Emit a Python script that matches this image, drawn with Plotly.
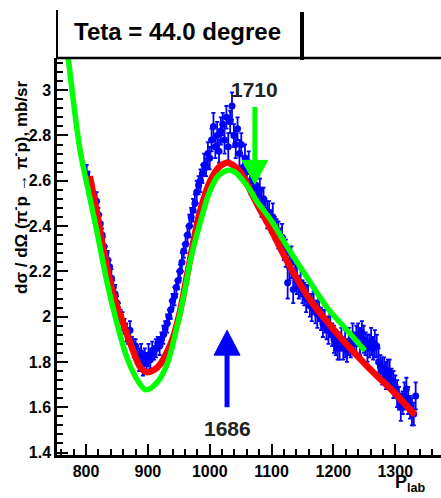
import plotly.graph_objects as go

# ---------------- data ----------------
p_lab = [801, 804, 807, 810, 813, 817, 820, 823, 826, 829, 832, 835, 838, 841, 844, 847, 850, 853, 856, 859,
         862, 865, 868, 871, 874, 877, 880, 883, 886, 889, 892, 895, 898, 901, 904, 907, 910, 913, 916, 919,
         922, 925, 928, 931, 934, 937, 940, 943, 946, 949, 952, 955, 958, 961, 964, 967, 970, 973, 976, 979,
         982, 985, 988, 991, 994, 997, 1000, 1003, 1006, 1009, 1012, 1015, 1018, 1021, 1024, 1027, 1030, 1033, 1036, 1039,
         1042, 1045, 1048, 1051, 1054, 1057, 1060, 1063, 1066, 1069, 1072, 1075, 1078, 1081, 1084, 1087, 1090, 1093, 1096, 1099,
         1102, 1105, 1108, 1111, 1114, 1117, 1120, 1123, 1126, 1129, 1132, 1135, 1138, 1141, 1144, 1147, 1150, 1153, 1156, 1159,
         1162, 1165, 1168, 1171, 1174, 1177, 1180, 1183, 1186, 1189, 1192, 1195, 1198, 1201, 1204, 1207, 1210, 1213, 1216, 1219,
         1222, 1225, 1228, 1231, 1234, 1237, 1240, 1243, 1246, 1249, 1252, 1255, 1258, 1261, 1264, 1267, 1270, 1273, 1276, 1279,
         1282, 1285, 1288, 1291, 1294, 1297, 1300, 1303, 1306, 1309, 1312, 1315, 1318, 1321, 1324, 1327, 1330, 1333]
dsigma = [2.63, 2.60, 2.58, 2.55, 2.52, 2.51, 2.45, 2.41, 2.36, 2.31, 2.28, 2.25, 2.22, 2.17, 2.13, 2.10, 2.06, 2.02, 2.00, 1.98,
          1.96, 1.93, 1.91, 1.94, 1.88, 1.86, 1.87, 1.83, 1.81, 1.84, 1.79, 1.82, 1.80, 1.83, 1.81, 1.85, 1.84, 1.86, 1.88, 1.87,
          1.90, 1.92, 1.95, 1.97, 2.00, 2.03, 2.07, 2.09, 2.13, 2.16, 2.20, 2.24, 2.29, 2.32, 2.36, 2.40, 2.44, 2.47, 2.50, 2.55,
          2.58, 2.60, 2.63, 2.67, 2.66, 2.72, 2.70, 2.78, 2.84, 2.75, 2.80, 2.73, 2.82, 2.85, 2.78, 2.88, 2.75, 2.86, 2.93, 2.80,
          2.76, 2.83, 2.72, 2.76, 2.66, 2.70, 2.64, 2.68, 2.60, 2.62, 2.57, 2.58, 2.53, 2.56, 2.50, 2.52, 2.47, 2.45, 2.46, 2.42,
          2.44, 2.39, 2.38, 2.36, 2.34, 2.35, 2.30, 2.28, 2.15, 2.22, 2.24, 2.12, 2.18, 2.16, 2.13, 2.15, 2.11, 2.10, 2.08, 2.09,
          2.05, 2.04, 2.06, 2.02, 2.01, 2.03, 1.99, 1.97, 1.98, 1.95, 1.94, 1.96, 1.92, 1.90, 1.88, 1.86, 1.87, 1.90, 1.86, 1.88,
          1.85, 1.89, 1.87, 1.91, 1.88, 1.90, 1.92, 1.89, 1.93, 1.90, 1.88, 1.86, 1.87, 1.89, 1.86, 1.88, 1.87, 1.80, 1.78, 1.76,
          1.77, 1.74, 1.76, 1.75, 1.72, 1.70, 1.69, 1.66, 1.64, 1.60, 1.62, 1.65, 1.68, 1.63, 1.60, 1.58, 1.57, 1.65]
dsigma_err = [0.04, 0.04, 0.03, 0.04, 0.03, 0.04, 0.03, 0.04, 0.03, 0.04, 0.03, 0.04, 0.03, 0.04, 0.03, 0.04, 0.03, 0.04, 0.03, 0.04,
              0.03, 0.04, 0.03, 0.04, 0.03, 0.04, 0.03, 0.04, 0.05, 0.04, 0.05, 0.04, 0.04, 0.05, 0.04, 0.04, 0.03, 0.04, 0.03, 0.04,
              0.03, 0.04, 0.03, 0.04, 0.03, 0.04, 0.03, 0.04, 0.03, 0.04, 0.03, 0.04, 0.03, 0.04, 0.04, 0.05, 0.04, 0.05, 0.04, 0.05,
              0.04, 0.05, 0.04, 0.05, 0.04, 0.05, 0.05, 0.05, 0.06, 0.05, 0.06, 0.05, 0.06, 0.05, 0.06, 0.05, 0.06, 0.05, 0.06, 0.05,
              0.06, 0.05, 0.06, 0.05, 0.05, 0.06, 0.05, 0.05, 0.06, 0.05, 0.05, 0.06, 0.05, 0.05, 0.06, 0.05, 0.05, 0.06, 0.05, 0.05,
              0.06, 0.05, 0.05, 0.06, 0.05, 0.06, 0.05, 0.06, 0.07, 0.06, 0.07, 0.06, 0.05, 0.06, 0.05, 0.06, 0.05, 0.05, 0.06, 0.05,
              0.05, 0.06, 0.05, 0.05, 0.06, 0.05, 0.05, 0.06, 0.05, 0.05, 0.06, 0.05, 0.05, 0.06, 0.05, 0.05, 0.06, 0.05, 0.05, 0.06,
              0.05, 0.06, 0.05, 0.06, 0.05, 0.06, 0.05, 0.06, 0.05, 0.06, 0.05, 0.06, 0.05, 0.06, 0.05, 0.06, 0.05, 0.06, 0.05, 0.06,
              0.05, 0.06, 0.05, 0.06, 0.05, 0.06, 0.05, 0.06, 0.05, 0.06, 0.05, 0.06, 0.05, 0.06, 0.05, 0.06, 0.05, 0.06]

fit_red_x = [806, 818, 828, 844, 860, 876, 888, 898, 910, 920, 932, 941, 950, 957, 968, 984, 1001, 1015, 1028, 1040,
             1054, 1065, 1076, 1098, 1130, 1162, 1206, 1255, 1300, 1332]
fit_red_y = [2.62, 2.45, 2.30, 2.10, 1.97, 1.85, 1.775, 1.755, 1.765, 1.79, 1.85, 1.91, 2.00, 2.09, 2.25, 2.46, 2.60, 2.66, 2.68, 2.665,
             2.62, 2.56, 2.50, 2.39, 2.22, 2.075, 1.925, 1.78, 1.66, 1.565]

fit_green_x = [770, 790, 801, 818, 834, 850, 866, 883, 897, 915, 931, 947, 960, 968, 984, 1001, 1015, 1028, 1040, 1054,
               1065, 1076, 1098, 1125, 1157, 1190, 1222, 1251]
fit_green_y = [3.17, 2.74, 2.59, 2.37, 2.15, 1.97, 1.82, 1.72, 1.677, 1.71, 1.79, 1.955, 2.12, 2.24, 2.41, 2.56, 2.625, 2.645, 2.64, 2.60,
               2.56, 2.51, 2.43, 2.31, 2.175, 2.04, 1.94, 1.85]

title_text = "Teta = 44.0 degree"
y_title = "dσ / dΩ (π<sup>-</sup>p → π<sup>-</sup>p), mb/sr"
x_title = "P<sub>lab</sub>"

# resonance markers (arrows): x position, tail y, head-base y, tip y
arrow_1686 = dict(x=1028, tail=1.60, base=1.83, tip=1.94, label="1686")
arrow_1710 = dict(x=1073, tail=2.926, base=2.69, tip=2.585, label="1710")
ARROW_HALF = 21  # half head width, in x units

# ---------------- figure ----------------
W, H = 441, 498
ML, MR, MT, MB = 57, 0, 58, 43
PW, PH = W - ML - MR, H - MT - MB


def px(x):
    return (x - ML) / PW


def py(y):
    return (H - MB - y) / PH


FONT = "Liberation Sans, Arial, sans-serif"

fig = go.Figure()

fig.add_trace(go.Scatter(
    x=p_lab, y=dsigma, mode="markers",
    marker=dict(color="#0000ff", size=7, line=dict(width=0)),
    error_y=dict(type="data", array=dsigma_err, color="#0000ff", thickness=1.8, width=2),
    showlegend=False,
))
fig.add_trace(go.Scatter(
    x=fit_red_x, y=fit_red_y, mode="lines",
    line=dict(color="#ff0000", width=6.5, shape="spline", smoothing=1.0),
    showlegend=False,
))
fig.add_trace(go.Scatter(
    x=fit_green_x, y=fit_green_y, mode="lines",
    line=dict(color="#00ff00", width=5.5, shape="spline", smoothing=1.0),
    showlegend=False,
))

shapes = []
annotations = []

# arrows
for arr, col in ((arrow_1686, "#0000ff"), (arrow_1710, "#00ff00")):
    shapes.append(dict(type="line", xref="x", yref="y", x0=arr["x"], x1=arr["x"],
                       y0=arr["tail"], y1=arr["base"], line=dict(color=col, width=5), layer="above"))
    shapes.append(dict(type="path", xref="x", yref="y", layer="above",
                       path=f"M {arr['x']-ARROW_HALF},{arr['base']} L {arr['x']+ARROW_HALF},{arr['base']} "
                            f"L {arr['x']},{arr['tip']} Z",
                       fillcolor=col, line=dict(color=col, width=1)))

annotations.append(dict(text=arrow_1710["label"], xref="paper", yref="paper", x=px(254), y=py(89),
                        showarrow=False, xanchor="center", yanchor="middle",
                        font=dict(family=FONT, size=21, color="#222", weight="bold")))
annotations.append(dict(text=arrow_1686["label"], xref="paper", yref="paper", x=px(227), y=py(428),
                        showarrow=False, xanchor="center", yanchor="middle",
                        font=dict(family=FONT, size=21, color="#222", weight="bold")))

# top frame line
shapes.append(dict(type="line", xref="paper", yref="paper", x0=0, x1=1, y0=1, y1=1,
                   line=dict(color="black", width=2.5)))
# title box (left edge, shadowed right edge)
shapes.append(dict(type="line", xref="paper", yref="paper", x0=px(57), x1=px(57), y0=py(58), y1=py(10),
                   line=dict(color="black", width=2)))
shapes.append(dict(type="line", xref="paper", yref="paper", x0=px(302), x1=px(302), y0=py(60), y1=py(12),
                   line=dict(color="black", width=4)))

annotations.append(dict(text=title_text, xref="paper", yref="paper", x=px(177), y=py(31),
                        showarrow=False, xanchor="center", yanchor="middle",
                        font=dict(family=FONT, size=24, color="black", weight="bold")))
annotations.append(dict(text=y_title, xref="paper", yref="paper", x=px(20), y=py(78),
                        showarrow=False, xanchor="center", yanchor="top", textangle=-90,
                        font=dict(family=FONT, size=17, color="black", weight="bold")))
annotations.append(dict(text=x_title, xref="paper", yref="paper", x=px(410), y=py(497),
                        showarrow=False, xanchor="center", yanchor="bottom",
                        font=dict(family=FONT, size=18, color="black", weight="bold")))

tickfont = dict(family=FONT, size=16, color="black", weight="bold")
fig.update_layout(
    width=W, height=H,
    margin=dict(l=ML, r=MR, t=MT, b=MB, pad=0),
    paper_bgcolor="white", plot_bgcolor="white",
    shapes=shapes, annotations=annotations,
    xaxis=dict(range=[753, 1374], showgrid=False, zeroline=False,
               showline=True, linecolor="black", linewidth=2.5,
               ticks="inside", ticklen=11, tickwidth=2, tickcolor="black",
               tick0=0, dtick=100, tickfont=tickfont,
               minor=dict(ticks="inside", ticklen=6, tickwidth=2, tickcolor="black", dtick=20, tick0=0)),
    yaxis=dict(range=[1.389, 3.142], showgrid=False, zeroline=False,
               showline=True, linecolor="black", linewidth=2.5,
               ticks="inside", ticklen=11, tickwidth=2, tickcolor="black",
               tick0=0, dtick=0.2, tickfont=tickfont,
               minor=dict(ticks="inside", ticklen=6, tickwidth=2, tickcolor="black", dtick=0.04, tick0=0)),
)

fig.write_html("out.html", config={"displayModeBar": False},
               post_script="document.body.style.margin='0';document.body.style.overflow='hidden';")
